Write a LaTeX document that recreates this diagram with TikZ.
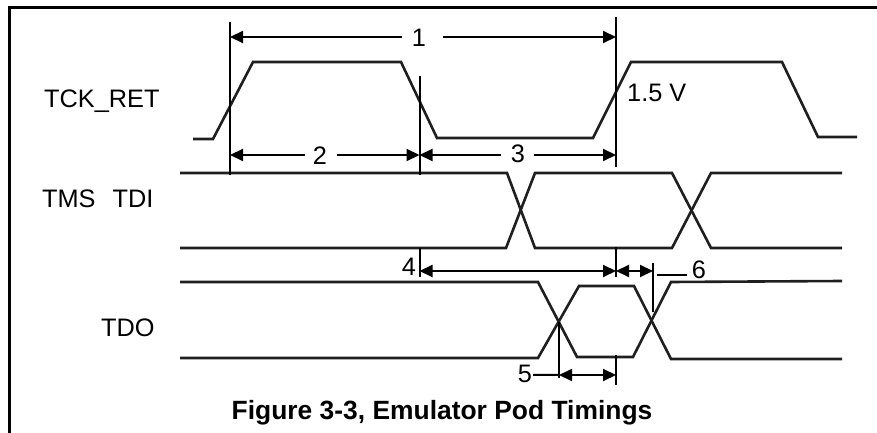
\documentclass[tikz,border=0pt]{standalone}
\usepackage{fontspec}
\setmainfont{Liberation Sans}
\usetikzlibrary{arrows.meta}
\begin{document}
\begin{tikzpicture}[x=1bp,y=-1bp,
  wave/.style={line width=2.6bp,line join=miter,black!88},
  vline/.style={line width=2bp},
  dimline/.style={line width=2bp},
  tip/.style={-{Triangle[length=13bp,width=12bp]}},
  bitip/.style={{Triangle[length=13bp,width=12bp]}-{Triangle[length=13bp,width=12bp]}},
  lbl/.style={inner sep=0pt,font=\fontsize{25.4pt}{30pt}\selectfont},
  captionstyle/.style={inner sep=0pt,font=\fontsize{26.5pt}{30pt}\selectfont\bfseries}]
\useasboundingbox (0,0) rectangle (877,433);
% frame
\draw[line width=2.6bp] (9.5,433) -- (9.5,7.5) -- (877,7.5);
% signal names
\node[lbl,anchor=base west] (tck) at (44,108) {TCK\_RET};
\node[lbl,anchor=base west] (tms) at (42,208) {TMS\hspace{17bp}TDI};
\node[lbl,anchor=base west] (tdo) at (101,337) {TDO};
\node[lbl,anchor=base west] (v15) at (627,102) {1.5 V};
% TCK_RET waveform
\draw[wave] (193,139) -- (213,139) -- (253,62) -- (401,62) -- (437,138)
  -- (593,138) -- (631,62) -- (782,62) -- (818,137) -- (857,137);
% TMS TDI
\draw[wave] (180,173) -- (507,173) -- (535,248) -- (672,248) -- (711,173) -- (842,173);
\draw[wave] (180,248) -- (506,248) -- (535,173) -- (672,173) -- (711,248) -- (842,248);
% TDO
\draw[wave] (180,282) -- (538,282) -- (577,357) -- (633,357) -- (671,282) -- (842,281);
\draw[wave] (180,358) -- (538,358) -- (579,286) -- (634,286) -- (671,359) -- (842,359);
% reference verticals
\coordinate (v1t) at (230,22);  \coordinate (v1b) at (230,175);
\coordinate (v2t) at (419.5,76); \coordinate (v2b) at (419.5,175);
\coordinate (v3t) at (616,17);  \coordinate (v3b) at (616,167);
\coordinate (v4t) at (419.5,248); \coordinate (v4b) at (419.5,277);
\coordinate (v5t) at (616,247); \coordinate (v5b) at (616,277);
\coordinate (v6t) at (653,263); \coordinate (v6b) at (653,312);
\coordinate (v7t) at (559,322); \coordinate (v7b) at (559,378);
\coordinate (v8t) at (616,355); \coordinate (v8b) at (616,385);
\foreach \v in {v1,v2,v3,v4,v5,v6,v7,v8} \draw[vline] (\v t) -- (\v b);
% dimension labels
\node[lbl] (n1) at (419,37.5) {1};
\node[lbl] (n2) at (320,156) {2};
\node[lbl] (n3) at (518,153.5) {3};
\node[lbl] (n4) at (409,266.5) {4};
\node[lbl] (n5) at (525,373.5) {5};
\node[lbl] (n6) at (699,269.5) {6};
% dimension arrows
\coordinate (a1l) at (230,37); \coordinate (a1r) at (616,37);
\draw[dimline,tip] (402,37) -- (a1l);
\draw[dimline,tip] (443,37) -- (a1r);
\coordinate (a2l) at (230,155); \coordinate (a2r) at (419.5,155);
\draw[dimline,tip] (305,155) -- (a2l);
\draw[dimline,tip] (337,155) -- (a2r);
\coordinate (a3l) at (419.5,155); \coordinate (a3r) at (616,155);
\draw[dimline,tip] (501,155) -- (a3l);
\draw[dimline,tip] (534,155) -- (a3r);
\coordinate (a4l) at (419.5,271); \coordinate (a4r) at (616,271);
\draw[dimline,bitip] (a4l) -- (a4r);
\coordinate (a6r) at (653,271);
\draw[dimline,bitip] (a4r) -- (a6r);
\draw[dimline] (657,275.5) -- (687,275.5);
\coordinate (a5l) at (559,375); \coordinate (a5r) at (616,375);
\draw[dimline,bitip] (a5l) -- (a5r);
\draw[dimline] (n5.east) ++(1,1.5) -- (a5l);
% caption
\node[captionstyle,anchor=base] (caption) at (442,419) {Figure 3-3, Emulator Pod Timings};
\end{tikzpicture}
\end{document}
